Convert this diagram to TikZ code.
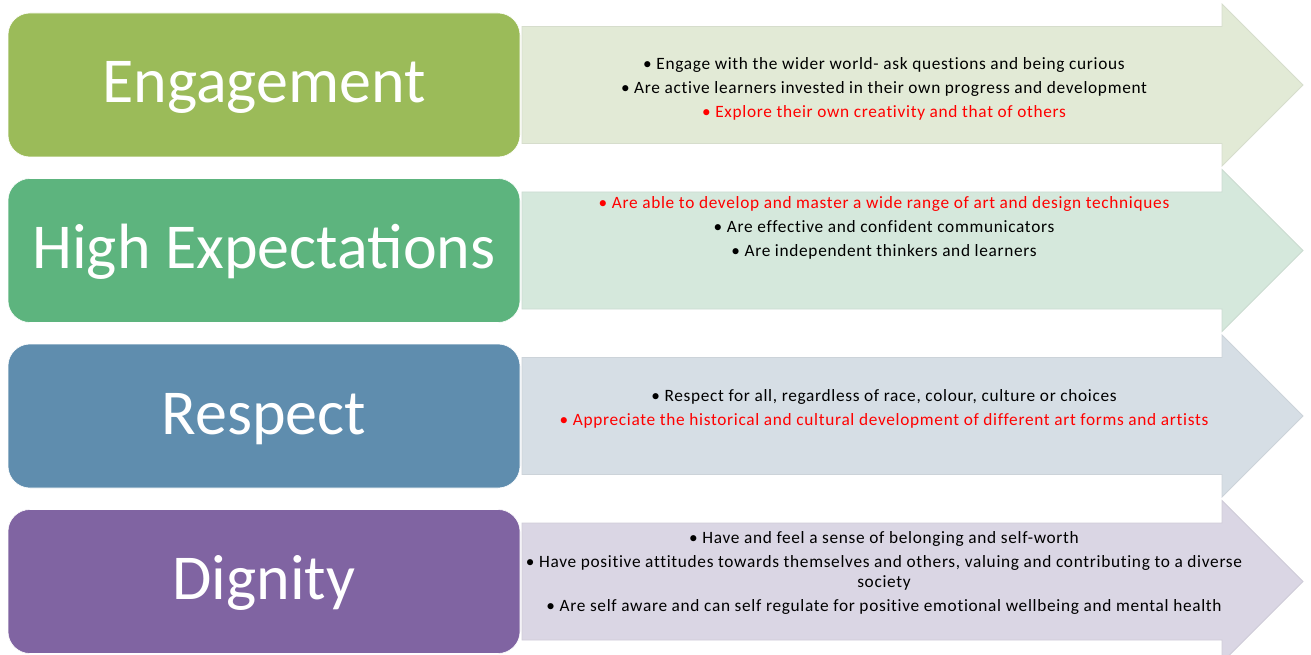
\documentclass[tikz,border=0pt]{standalone}
\usepackage{fontspec}
\setmainfont{Carlito}
\newfontfamily\listfont{Carlito}[LetterSpace=4.0, Ligatures=NoCommon]
\usetikzlibrary{calc}
\definecolor{engageC}{HTML}{9BBB59}
\definecolor{expectC}{HTML}{5DB47E}
\definecolor{respectC}{HTML}{5F8DAE}
\definecolor{dignityC}{HTML}{8064A2}
\definecolor{engageL}{HTML}{E2EAD6}
\definecolor{expectL}{HTML}{D5E8DC}
\definecolor{respectL}{HTML}{D6DEE5}
\definecolor{dignityL}{HTML}{DAD6E4}
\definecolor{redtxt}{HTML}{FF0000}

\begin{document}
\begin{tikzpicture}[x=1pt,y=-1pt,
  titlebox/.style={rounded corners=22pt, draw=white, line width=0.6pt,
    minimum width=512pt, minimum height=144pt, inner sep=0pt,
    text=white, text height=40pt, text depth=4pt,
    font=\fontsize{64}{70}\selectfont},
  listtext/.style={align=center, anchor=base, inner sep=0pt,
    font=\listfont\fontsize{17.3}{24}\selectfont}]
  \useasboundingbox (0,0) rectangle (1311,655);
  % Pfeile
  \foreach \c/\fillc in {85/engageL, 250.5/expectL, 416/respectL, 581.5/dignityL}
    \draw[fill=\fillc, draw=\fillc!88!gray, line width=0.8pt]
      (522,\c-58.5) -- (1222,\c-58.5) -- (1222,\c-81) -- (1303,\c)
      -- (1222,\c+81) -- (1222,\c+58.5) -- (522,\c+58.5) -- cycle;
  % Kaesten
  \node[titlebox, fill=engageC] (engage) at (264,85) {Engagement};
  \node[titlebox, fill=expectC] (expect) at (264,250.5) {High Expectations};
  \node[titlebox, fill=respectC] (respect) at (264,416) {Respect};
  \node[titlebox, fill=dignityC] (dignity) at (264,581.5) {Dignity};
  % Texte (Grundlinie der letzten Zeile)
  \node[listtext] (engagetxt) at (884,118) {%
    • Engage with the wider world- ask questions and being curious\\
    • Are active learners invested in their own progress and development\\
    \textcolor{redtxt}{• Explore their own creativity and that of others}};
  \node[listtext] (expecttxt) at (884,256) {%
    \textcolor{redtxt}{• Are able to develop and master a wide range of art and design techniques}\\
    • Are effective and confident communicators\\
    • Are independent thinkers and learners};
  \node[listtext] (respecttxt) at (884,425) {%
    • Respect for all, regardless of race, colour, culture or choices\\
    \textcolor{redtxt}{• Appreciate the historical and cultural development of different art forms and artists}};
  \node[listtext] (dignitytxt) at (884,611) {%
    • Have and feel a sense of belonging and self-worth\\
    • Have positive attitudes towards themselves and others, valuing and contributing to a diverse\\[-4pt]
    society\\
    • Are self aware and can self regulate for positive emotional wellbeing and mental health};
\end{tikzpicture}
\end{document}
